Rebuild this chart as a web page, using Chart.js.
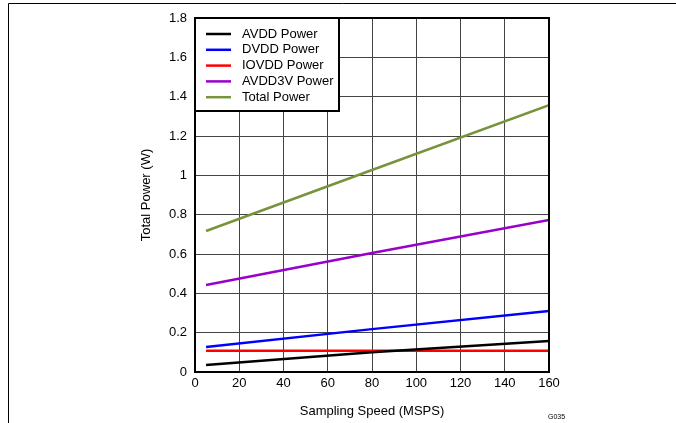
<!DOCTYPE html>
<html>
<head>
<meta charset="utf-8">
<script src="https://cdn.jsdelivr.net/npm/chart.js@4/dist/chart.umd.min.js"></script>
<style>
  html, body { margin: 0; padding: 0; background: #fff; }
  #wrap { width: 676px; height: 423px; position: relative; }
</style>
</head>
<body>
<div id="wrap"><canvas id="power-chart"></canvas></div>
<script>
// sampling speed (MSPS)
const speeds = [5, 80, 160];

const avddPower = [0.036, 0.100, 0.158];
const dvddPower = [0.127, 0.218, 0.310];
const iovddPower = [0.108, 0.108, 0.108];
const avdd3vPower = [0.442, 0.605, 0.773];
const totalPower = [0.717, 1.027, 1.357];

const seriesLabels = ['AVDD Power', 'DVDD Power', 'IOVDD Power', 'AVDD3V Power', 'Total Power'];
const seriesColors = ['#000000', '#0000FF', '#FF0000', '#9900CC', '#77933C'];

const yTicks = [0, 0.2, 0.4, 0.6, 0.8, 1, 1.2, 1.4, 1.6, 1.8];
const xTicks = [0, 20, 40, 60, 80, 100, 120, 140, 160];

const FONT = 'Arial, "Liberation Sans", sans-serif';

function toPoints(values) {
    return values.map((v, i) => ({ x: speeds[i], y: v }));
}

const allSeries = [avddPower, dvddPower, iovddPower, avdd3vPower, totalPower];

// page frame, plot border, in-plot legend and the G035 tag
const decorations = {
    id: 'decorations',
    afterDraw(chart) {
        const ctx = chart.ctx;
        const area = chart.chartArea;
        ctx.save();

        // page frame
        ctx.strokeStyle = '#000';
        ctx.lineWidth = 1;
        ctx.beginPath();
        ctx.moveTo(8.5, 423);
        ctx.lineTo(8.5, 3.5);
        ctx.lineTo(676, 3.5);
        ctx.stroke();

        // legend box
        const lx = area.left, ly = area.top, lw = 144, lh = 93;
        ctx.fillStyle = '#fff';
        ctx.fillRect(lx, ly, lw, lh);
        ctx.lineWidth = 2;
        ctx.strokeStyle = '#000';
        ctx.strokeRect(lx, ly, lw, lh);

        ctx.font = '13px ' + FONT;
        ctx.textBaseline = 'middle';
        ctx.textAlign = 'left';
        chart.data.datasets.forEach((ds, i) => {
            const y = ly + 16 + i * 15.8;
            ctx.strokeStyle = ds.borderColor;
            ctx.lineWidth = 2.5;
            ctx.beginPath();
            ctx.moveTo(lx + 11, y);
            ctx.lineTo(lx + 36, y);
            ctx.stroke();
            ctx.fillStyle = '#000';
            ctx.fillText(ds.label, lx + 47, y);
        });

        // plot border
        ctx.lineWidth = 2;
        ctx.strokeStyle = '#000';
        ctx.strokeRect(area.left, area.top, area.right - area.left, area.bottom - area.top);

        // graph id
        ctx.font = '7px ' + FONT;
        ctx.fillStyle = '#000';
        ctx.textAlign = 'left';
        ctx.fillText('G035', 548, 417);

        ctx.restore();
    }
};

const chart = new Chart(document.getElementById('power-chart').getContext('2d'), {
    type: 'line',
    data: {
        datasets: allSeries.map((values, i) => ({
            label: seriesLabels[i],
            data: toPoints(values),
            borderColor: seriesColors[i],
            backgroundColor: seriesColors[i],
            borderWidth: 2.5,
            pointRadius: 0,
            tension: 0,
            fill: false
        }))
    },
    options: {
        responsive: true,
        maintainAspectRatio: false,
        animation: false,
        layout: { padding: { left: 135, top: 18, right: 127, bottom: 0 } },
        plugins: {
            legend: { display: false },
            tooltip: { enabled: false }
        },
        scales: {
            x: {
                type: 'linear',
                min: 0,
                max: 160,
                afterBuildTicks: s => { s.ticks = xTicks.map(v => ({ value: v })); },
                afterFit: s => { s.height = 51; },
                grid: { color: '#444', lineWidth: 1, drawTicks: false },
                border: { display: false },
                ticks: { color: '#000', font: { family: FONT, size: 13 }, padding: 4, maxRotation: 0 },
                title: { display: true, text: 'Sampling Speed (MSPS)', color: '#000', font: { family: FONT, size: 13 } }
            },
            y: {
                type: 'linear',
                min: 0,
                max: 1.8,
                afterBuildTicks: s => { s.ticks = yTicks.map(v => ({ value: v })); },
                afterFit: s => { s.width = 60; },
                grid: { color: '#444', lineWidth: 1, drawTicks: false },
                border: { display: false },
                ticks: { color: '#000', font: { family: FONT, size: 13 }, padding: 8, callback: v => String(Math.round(v * 10) / 10) },
                title: { display: true, text: 'Total Power (W)', color: '#000', font: { family: FONT, size: 13 } }
            }
        }
    },
    plugins: [decorations]
});
</script>
</body>
</html>
